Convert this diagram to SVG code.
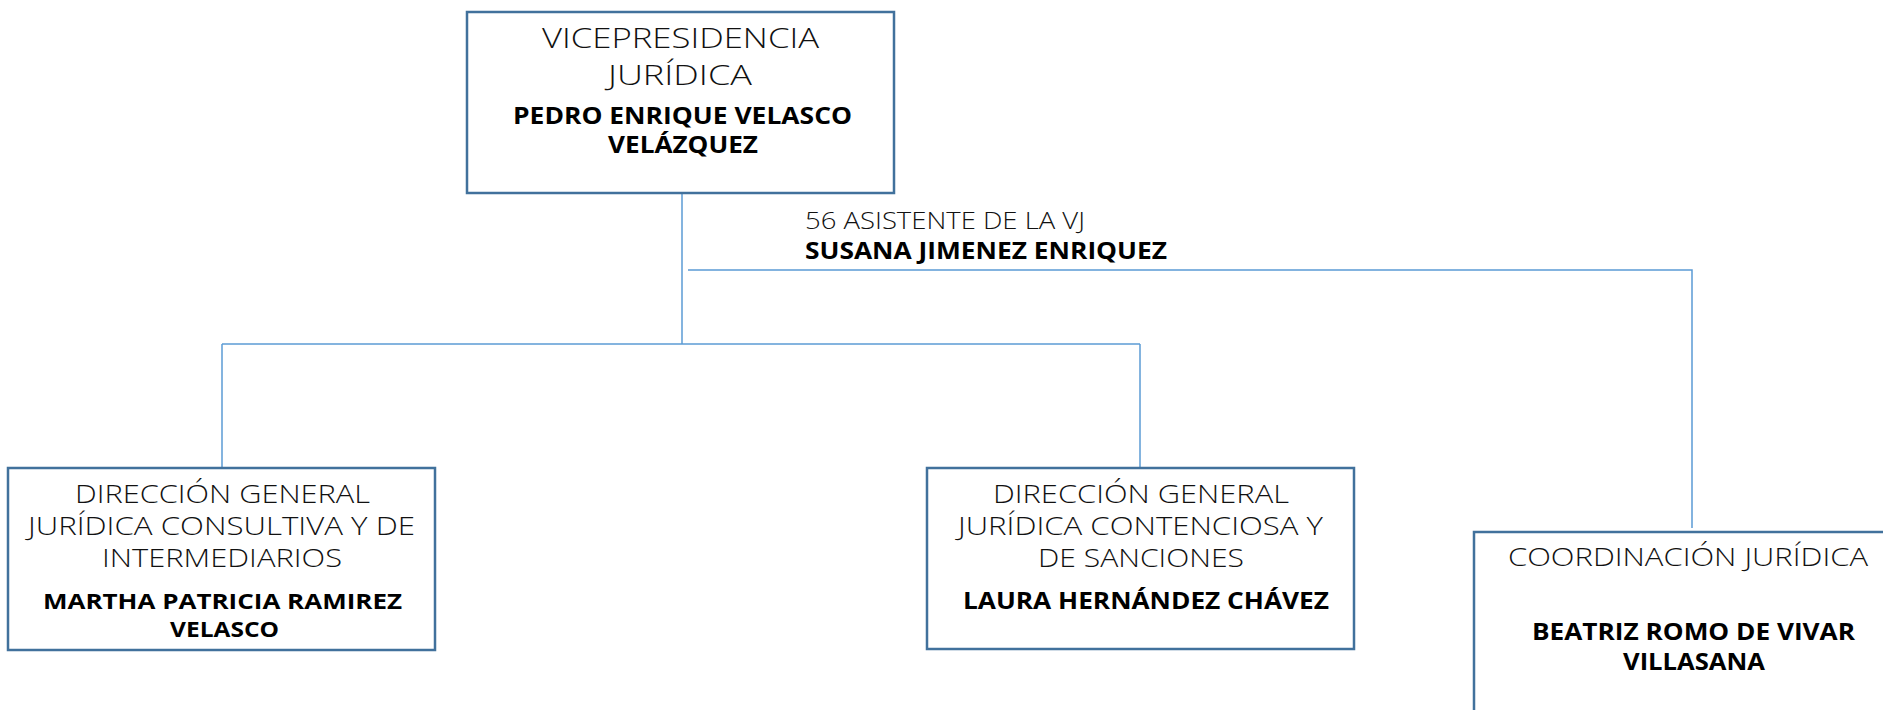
<svg xmlns="http://www.w3.org/2000/svg" width="1883" height="710" viewBox="0 0 1883 710">
<style>
.box{fill:#fff;stroke:#41719c;stroke-width:2.5}
.conn{fill:none;stroke:#5b9bd5;stroke-width:1.5}
.t{font-family:"Open Sans","Liberation Sans",sans-serif;font-weight:300;font-size:27.5px;fill:#111;text-anchor:middle}
.s{font-size:25px}
.b{font-family:"Open Sans","Liberation Sans",sans-serif;font-weight:700;font-size:23px;fill:#000;text-anchor:middle}
.l{text-anchor:start}
</style>
<rect width="1883" height="710" fill="#fff"/>
<g id="connectors">
<path class="conn" d="M682,193 V344"/>
<path class="conn" d="M222,344 H1140"/>
<path class="conn" d="M222,344 V468"/>
<path class="conn" d="M1140,344 V468"/>
<path class="conn" d="M688,270 H1692 V528"/>
</g>
<g id="vicepresidencia">
<rect class="box" x="467" y="12" width="427" height="181"/>
<text class="t" x="680.5" y="48" textLength="277" lengthAdjust="spacingAndGlyphs">VICEPRESIDENCIA</text>
<text class="t" x="680" y="85" textLength="144" lengthAdjust="spacingAndGlyphs">JURÍDICA</text>
<text class="b" x="682.5" y="124" textLength="339" lengthAdjust="spacingAndGlyphs">PEDRO ENRIQUE VELASCO</text>
<text class="b" x="683" y="153" textLength="150" lengthAdjust="spacingAndGlyphs">VELÁZQUEZ</text>
</g>
<g id="asistente">
<text class="t l" x="805" y="229" style="font-size:23px" textLength="280" lengthAdjust="spacingAndGlyphs">56 ASISTENTE DE LA VJ</text>
<text class="b l" x="805" y="259" textLength="362" lengthAdjust="spacingAndGlyphs">SUSANA JIMENEZ ENRIQUEZ</text>
</g>
<g id="dg-consultiva">
<rect class="box" x="8" y="468" width="427" height="182"/>
<text class="t s" x="222.5" y="503" textLength="295" lengthAdjust="spacingAndGlyphs">DIRECCIÓN GENERAL</text>
<text class="t s" x="221.5" y="535" textLength="387" lengthAdjust="spacingAndGlyphs">JURÍDICA CONSULTIVA Y DE</text>
<text class="t s" x="222" y="567" textLength="240" lengthAdjust="spacingAndGlyphs">INTERMEDIARIOS</text>
<text class="b" x="222.5" y="609" style="font-size:22px" textLength="359" lengthAdjust="spacingAndGlyphs">MARTHA PATRICIA RAMIREZ</text>
<text class="b" x="224.5" y="637" style="font-size:22px" textLength="109" lengthAdjust="spacingAndGlyphs">VELASCO</text>
</g>
<g id="dg-contenciosa">
<rect class="box" x="927" y="468" width="427" height="181"/>
<text class="t s" x="1141" y="503" textLength="296" lengthAdjust="spacingAndGlyphs">DIRECCIÓN GENERAL</text>
<text class="t s" x="1140.5" y="535" textLength="365" lengthAdjust="spacingAndGlyphs">JURÍDICA CONTENCIOSA Y</text>
<text class="t s" x="1141" y="567" textLength="206" lengthAdjust="spacingAndGlyphs">DE SANCIONES</text>
<text class="b" x="1146" y="609" textLength="366" lengthAdjust="spacingAndGlyphs">LAURA HERNÁNDEZ CHÁVEZ</text>
</g>
<g id="coordinacion">
<rect class="box" x="1474" y="532" width="440" height="200"/>
<text class="t s" x="1688" y="566" textLength="360" lengthAdjust="spacingAndGlyphs">COORDINACIÓN JURÍDICA</text>
<text class="b" x="1693.5" y="640" textLength="323" lengthAdjust="spacingAndGlyphs">BEATRIZ ROMO DE VIVAR</text>
<text class="b" x="1694" y="670" textLength="142" lengthAdjust="spacingAndGlyphs">VILLASANA</text>
</g>
</svg>
